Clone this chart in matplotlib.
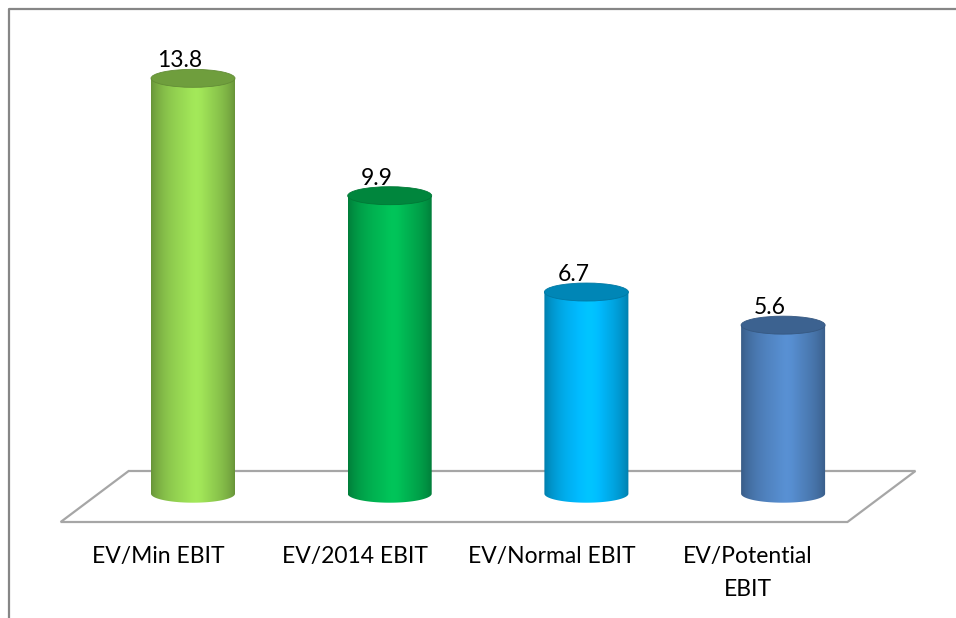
import numpy as np
import matplotlib.pyplot as plt
from matplotlib.path import Path
from matplotlib.patches import PathPatch, Ellipse, Polygon
from matplotlib.lines import Line2D
from matplotlib.colors import to_rgb

categories = ["EV/Min EBIT", "EV/2014 EBIT", "EV/Normal EBIT", "EV/Potential\nEBIT"]
values = [13.8, 9.9, 6.7, 5.6]
value_labels = ["13.8", "9.9", "6.7", "5.6"]
colors = ["#92D050", "#00B050", "#00B0F0", "#4F81BD"]

W, H = 956, 618
fig = plt.figure(figsize=(W / 100, H / 100), dpi=100)
ax = fig.add_axes([0, 0, 1, 1])
ax.set_axis_off()

# pixel scale of the plot: category spacing and one value unit
x0_px, step_px = 193.0, 196.7
y0_px, unit_px = 493.7, 30.1
ax.set_xlim(-x0_px / step_px, (W - x0_px) / step_px)
ax.set_ylim(-(H - y0_px) / unit_px, y0_px / unit_px)

FONT = "Lato"
bar_w = 84 / step_px          # cylinder width in category units
eh = 9.0 / unit_px            # half height of the elliptical caps
skew = 34 / step_px           # horizontal perspective shift of the floor
floor_back = 22.7 / unit_px
floor_front = -28.3 / unit_px


def shade(c, s):
    return np.clip(np.array(to_rgb(c)) * s, 0, 1)


def profile(n=200):
    t = np.linspace(0, 1, n)
    # dark rims, bright band a little right of centre
    s = 0.70 + 0.36 * np.clip(np.sin(np.pi * t), 0, 1) ** 0.7
    s += 0.06 * np.exp(-((t - 0.55) / 0.12) ** 2)
    return s


# floor of the 3-D plot area
n = len(values)
floor = Polygon([(-0.5 + skew, floor_back), (n - 0.5 + skew, floor_back),
                 (n - 0.5 - skew, floor_front), (-0.5 - skew, floor_front)],
                closed=True, facecolor="white", edgecolor="#a6a6a6", lw=1.6, zorder=1)
ax.add_patch(floor)

prof = profile()
for i, (v, c, lab) in enumerate(zip(values, colors, value_labels)):
    xl, xr = i - bar_w / 2, i + bar_w / 2
    th = np.linspace(np.pi, 2 * np.pi, 60)
    bottom = np.column_stack([i + bar_w / 2 * np.cos(th), eh * np.sin(th)])
    verts = np.vstack([[xl, v], bottom, [xr, v], [xl, v]])
    codes = [Path.MOVETO] + [Path.LINETO] * (len(verts) - 2) + [Path.CLOSEPOLY]
    body = PathPatch(Path(verts, codes), facecolor="none", edgecolor="none", zorder=3)
    ax.add_patch(body)
    grad = np.array([[shade(c, s) for s in prof]])
    im = ax.imshow(grad, extent=(xl, xr, -eh, v), aspect="auto",
                   interpolation="bilinear", zorder=3)
    im.set_clip_path(body)

    # top cap, darker than the side
    cap = Ellipse((i, v), bar_w, 2 * eh, facecolor=shade(c, 0.76),
                  edgecolor=shade(c, 0.68), lw=0.6, zorder=4)
    ax.add_patch(cap)

    ax.text(i - 13 / step_px, v + eh + 2 / unit_px, lab, ha="center", va="baseline",
            fontsize=16.5, family=FONT, color="black", zorder=5)

for i, cat in enumerate(categories):
    ax.text(i - 35 / step_px, floor_front - 24 / unit_px, cat, ha="center", va="top",
            fontsize=16.5, family=FONT, color="black", linespacing=1.7)

# chart frame
fx, fy = 8.5 / W, 1 - 9 / H
fig.add_artist(Line2D([fx, fx, 1.01], [-0.01, fy, fy], transform=fig.transFigure,
                      color="#868686", lw=1.6))

fig.savefig("out.png", dpi=100)
